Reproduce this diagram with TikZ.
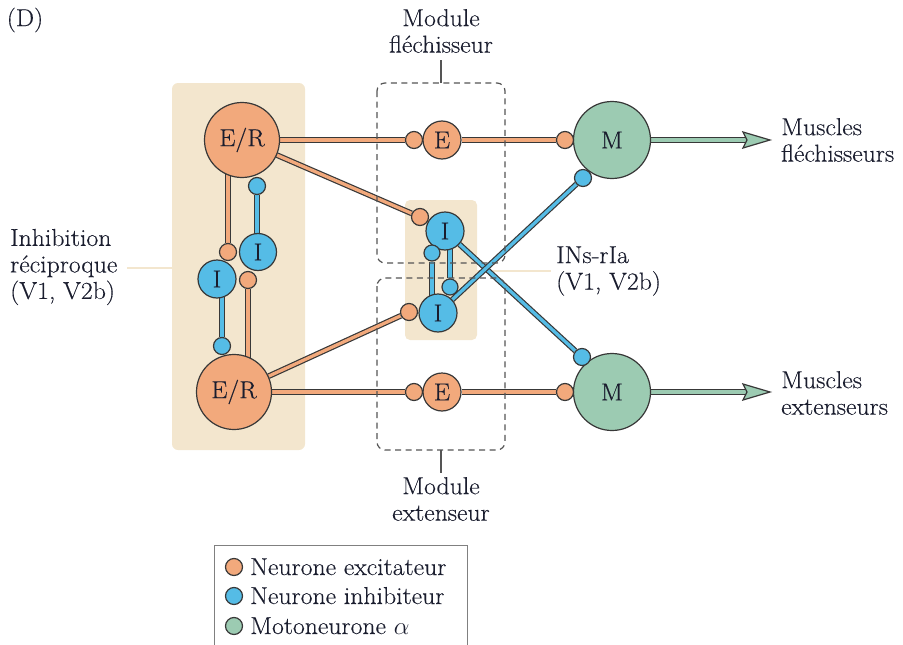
\documentclass[tikz,border=0pt]{standalone}
\usepackage{fontspec}
\setmainfont{Latin Modern Roman}[FakeStretch=1.05, FakeBold=0.3]
\usetikzlibrary{calc}
\definecolor{corange}{HTML}{F2A97C}
\definecolor{cblue}{HTML}{55BCE6}
\definecolor{cgreen}{HTML}{9CCBB2}
\definecolor{cbeige}{HTML}{F3E6CE}
\definecolor{cdark}{HTML}{383838}
\definecolor{ctext}{HTML}{1A1D2E}
\definecolor{cdash}{HTML}{555555}
\pgfdeclarelayer{panels}
\pgfdeclarelayer{wires}
\pgfsetlayers{panels,wires,main}
\begin{document}
\begin{tikzpicture}[x=1pt,y=-1pt,
  every node/.style={text=ctext, font=\fontsize{24.5}{26.5}\selectfont},
  cell/.style={circle, draw=cdark, line width=1.2pt, inner sep=0pt},
  exc/.style={cell, fill=corange},
  inh/.style={cell, fill=cblue},
  mot/.style={cell, fill=cgreen},
  big/.style={minimum size=75pt},
  mid/.style={minimum size=38pt},
  ball/.style={minimum size=17pt},
  lbl/.style={inner sep=0pt, align=left},
  clbl/.style={inner sep=0pt, align=center},
  wire/.style={draw=cdark, line width=1.2pt, double distance=3.3pt},
  ewire/.style={wire, double=corange},
  iwire/.style={wire, double=cblue},
  mwire/.style={wire, double=cgreen, double distance=4pt},
  dbox/.style={draw=cdash, line width=1.2pt, dash pattern=on 6pt off 4.5pt, rounded corners=8pt},
  tick/.style={draw=cdash, line width=1.2pt},
  lead/.style={draw=cbeige, line width=2.5pt},
  head/.style={draw=cdark, line width=1.2pt, fill=cgreen, line join=miter}
]
\useasboundingbox (0,0) rectangle (903,645);

% main cells
\node[exc,big] (ERt) at (242,140) {E/R};
\node[exc,big] (ERb) at (234,392) {E/R};
\node[inh,mid] (IL) at (217,279) {I};
\node[inh,mid,minimum size=37pt] (IR) at (258,252) {I};
\node[exc,mid] (Ef) at (442,140) {E};
\node[exc,mid] (Ee) at (442,392) {E};
\node[inh,mid] (It) at (445,231) {I};
\node[inh,mid] (Ib) at (438,313) {I};
\node[mot,big,minimum size=77pt] (Mf) at (612,140) {M};
\node[mot,big,minimum size=77pt] (Me) at (612,392) {M};

% synaptic terminals
\node[exc,ball] (bILt) at (228,252) {};
\node[inh,ball] (bERtb) at (257,186) {};
\node[exc,ball] (bIRb) at (248,280) {};
\node[inh,ball] (bERbt) at (222,346) {};
\node[exc,ball] (bEf) at (414,140) {};
\node[exc,ball] (bEe) at (414,392) {};
\node[exc,ball] (bIt) at (420,217) {};
\node[exc,ball] (bIb) at (409,312) {};
\node[inh,ball,minimum size=16pt] (bItb) at (432,253) {};
\node[inh,ball,minimum size=16pt] (bIbt) at (450,287) {};
\node[exc,ball] (bMf1) at (565,140) {};
\node[exc,ball] (bMe1) at (565,392) {};
\node[inh,ball] (bMf2) at (583,178) {};
\node[inh,ball] (bMe2) at (582,357) {};

\coordinate (tipF) at (770,140);
\coordinate (tipE) at (770,392);

% panels
\begin{pgfonlayer}{panels}
  \fill[cbeige, rounded corners=6pt] (172,83) rectangle (305,450);
  \fill[cbeige, rounded corners=5pt] (405,200) rectangle (477,340);
  \coordinate (leadL) at (127,268);
  \coordinate (leadR) at (551,271);
  \draw[lead] (leadL) -- (172,268);
  \draw[lead] (477,271) -- (leadR);
\end{pgfonlayer}

% wires
\begin{pgfonlayer}{wires}
  \draw[ewire] (ERt) -- (bEf);
  \draw[ewire] (Ef) -- (bMf1);
  \draw[ewire] (ERb) -- (bEe);
  \draw[ewire] (Ee) -- (bMe1);
  \draw[ewire] (ERt) -- (bIt);
  \draw[ewire] (ERb) -- (bIb);
  \draw[ewire] (bILt) -- (bILt |- ERt.center);
  \draw[ewire] (bIRb) -- (bIRb |- ERb.center);
  \draw[iwire] (bERtb) -- (bERtb |- IR.center);
  \draw[iwire] (bERbt) -- (bERbt |- IL.center);
  \draw[iwire] (bItb) -- (bItb |- Ib.center);
  \draw[iwire] (bIbt) -- (bIbt |- It.center);
  \draw[iwire] (It) -- (bMe2);
  \draw[iwire] (Ib) -- (bMf2);
  \draw[mwire] (Mf) -- ($(tipF)+(-24,0)$);
  \draw[mwire] (Me) -- ($(tipE)+(-24,0)$);
  % dashed modules
  \draw[dbox] (377,83) rectangle (505,263);
  \draw[dbox] (377,278) rectangle (505,450);
  \coordinate (tkT) at (441,60);
  \coordinate (tkB) at (441,473);
  \draw[tick] (441,83) -- (tkT);
  \draw[tick] (441,450) -- (tkB);
\end{pgfonlayer}

% arrow heads
\draw[head] ($(tipF)+(-27,-8)$) -- (tipF) -- ($(tipF)+(-27,8)$) -- ($(tipF)+(-23,0)$) -- cycle;
\draw[head] ($(tipE)+(-27,-8)$) -- (tipE) -- ($(tipE)+(-27,8)$) -- ($(tipE)+(-23,0)$) -- cycle;

% labels
\node[lbl] (lD) at (25,20) {(D)};
\node[clbl] (lModF) at (441,31) {Module\\fléchisseur};
\node[clbl] (lModE) at (441,499) {Module\\extenseur};
\node[lbl, anchor=west] (lInh) at (10,267) {Inhibition\\réciproque\\(V1, V2b)};
\node[lbl, anchor=west] (lINs) at (556,271) {INs-rIa\\(V1, V2b)};
\node[lbl, anchor=west] (lMF) at (781,140) {Muscles\\fléchisseurs};
\node[lbl, anchor=west] (lME) at (781,393) {Muscles\\extenseurs};

% legend
\draw[draw=gray, line width=1pt] (214,646) -- (214,545) -- (467,545) -- (467,646);
\node[exc,ball] (lg1) at (234,567) {};
\node[inh,ball] (lg2) at (234,596) {};
\node[mot,ball] (lg3) at (234,626) {};
\node[lbl, anchor=base west] (lt1) at (250,575) {Neurone excitateur};
\node[lbl, anchor=base west] (lt2) at (250,604) {Neurone inhibiteur};
\node[lbl, anchor=base west] (lt3) at (250,634) {Motoneurone $\alpha$};
\end{tikzpicture}
\end{document}
